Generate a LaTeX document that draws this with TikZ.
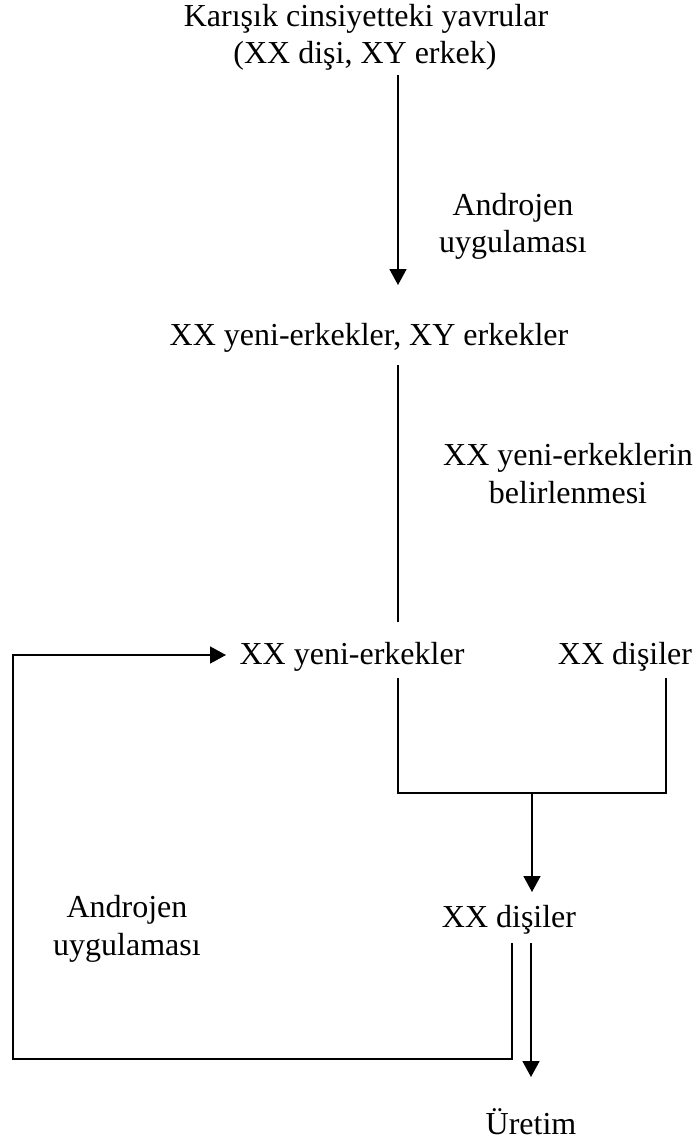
\documentclass[tikz,border=0pt]{standalone}
\usepackage{fontspec}
\setmainfont{Liberation Serif}
\usetikzlibrary{arrows.meta}
\begin{document}
\begin{tikzpicture}[x=1pt,y=-1pt,
  txt/.style={anchor=base,inner sep=0pt,font=\fontsize{32}{38}\selectfont},
  ln/.style={line width=1.6pt},
  arr/.style={ln,-{Triangle[length=16pt,width=17pt]}}]
\useasboundingbox (0,0) rectangle (697,1146);
% texts
\node[txt] (src1) at (366,26) {Karışık cinsiyetteki yavrular};
\node[txt] (src2) at (365,63) {(XX dişi, XY erkek)};
\node[txt] (lab1a) at (513,215) {Androjen};
\node[txt] (lab1b) at (513,252) {uygulaması};
\node[txt] (mid) at (369,345) {XX yeni-erkekler, XY erkekler};
\node[txt] (lab2a) at (568,465) {XX yeni-erkeklerin};
\node[txt] (lab2b) at (568,503) {belirlenmesi};
\node[txt] (neo) at (352,664) {XX yeni-erkekler};
\node[txt] (fem) at (625,664) {XX dişiler};
\node[txt] (low) at (509,927) {XX dişiler};
\node[txt] (lab3a) at (127,917) {Androjen};
\node[txt] (lab3b) at (127,955) {uygulaması};
\node[txt] (prod) at (531,1134) {Üretim};
% coordinates
\coordinate (a1s) at (398,75);
\coordinate (a1e) at (398,285);
\coordinate (l2s) at (398,365);
\coordinate (l2e) at (398,622);
\coordinate (jn) at (398,678);
\coordinate (jf) at (666,678);
\coordinate (jnb) at (398,793);
\coordinate (jfb) at (666,793);
\coordinate (jm) at (532,793);
\coordinate (jme) at (532,892);
\coordinate (lp0) at (512,943);
\coordinate (lp1) at (512,1059);
\coordinate (lp2) at (13,1059);
\coordinate (lp3) at (13,655);
\coordinate (lp4) at (226,655);
\coordinate (pr0) at (531,943);
\coordinate (pr1) at (531,1077);
% connectors
\draw[arr] (a1s) -- (a1e);
\draw[ln] (l2s) -- (l2e);
\draw[ln] (jn) -- (jnb) -- (jfb) -- (jf);
\draw[arr] (jm) -- (jme);
\draw[arr] (lp0) -- (lp1) -- (lp2) -- (lp3) -- (lp4);
\draw[arr] (pr0) -- (pr1);
\end{tikzpicture}
\end{document}
